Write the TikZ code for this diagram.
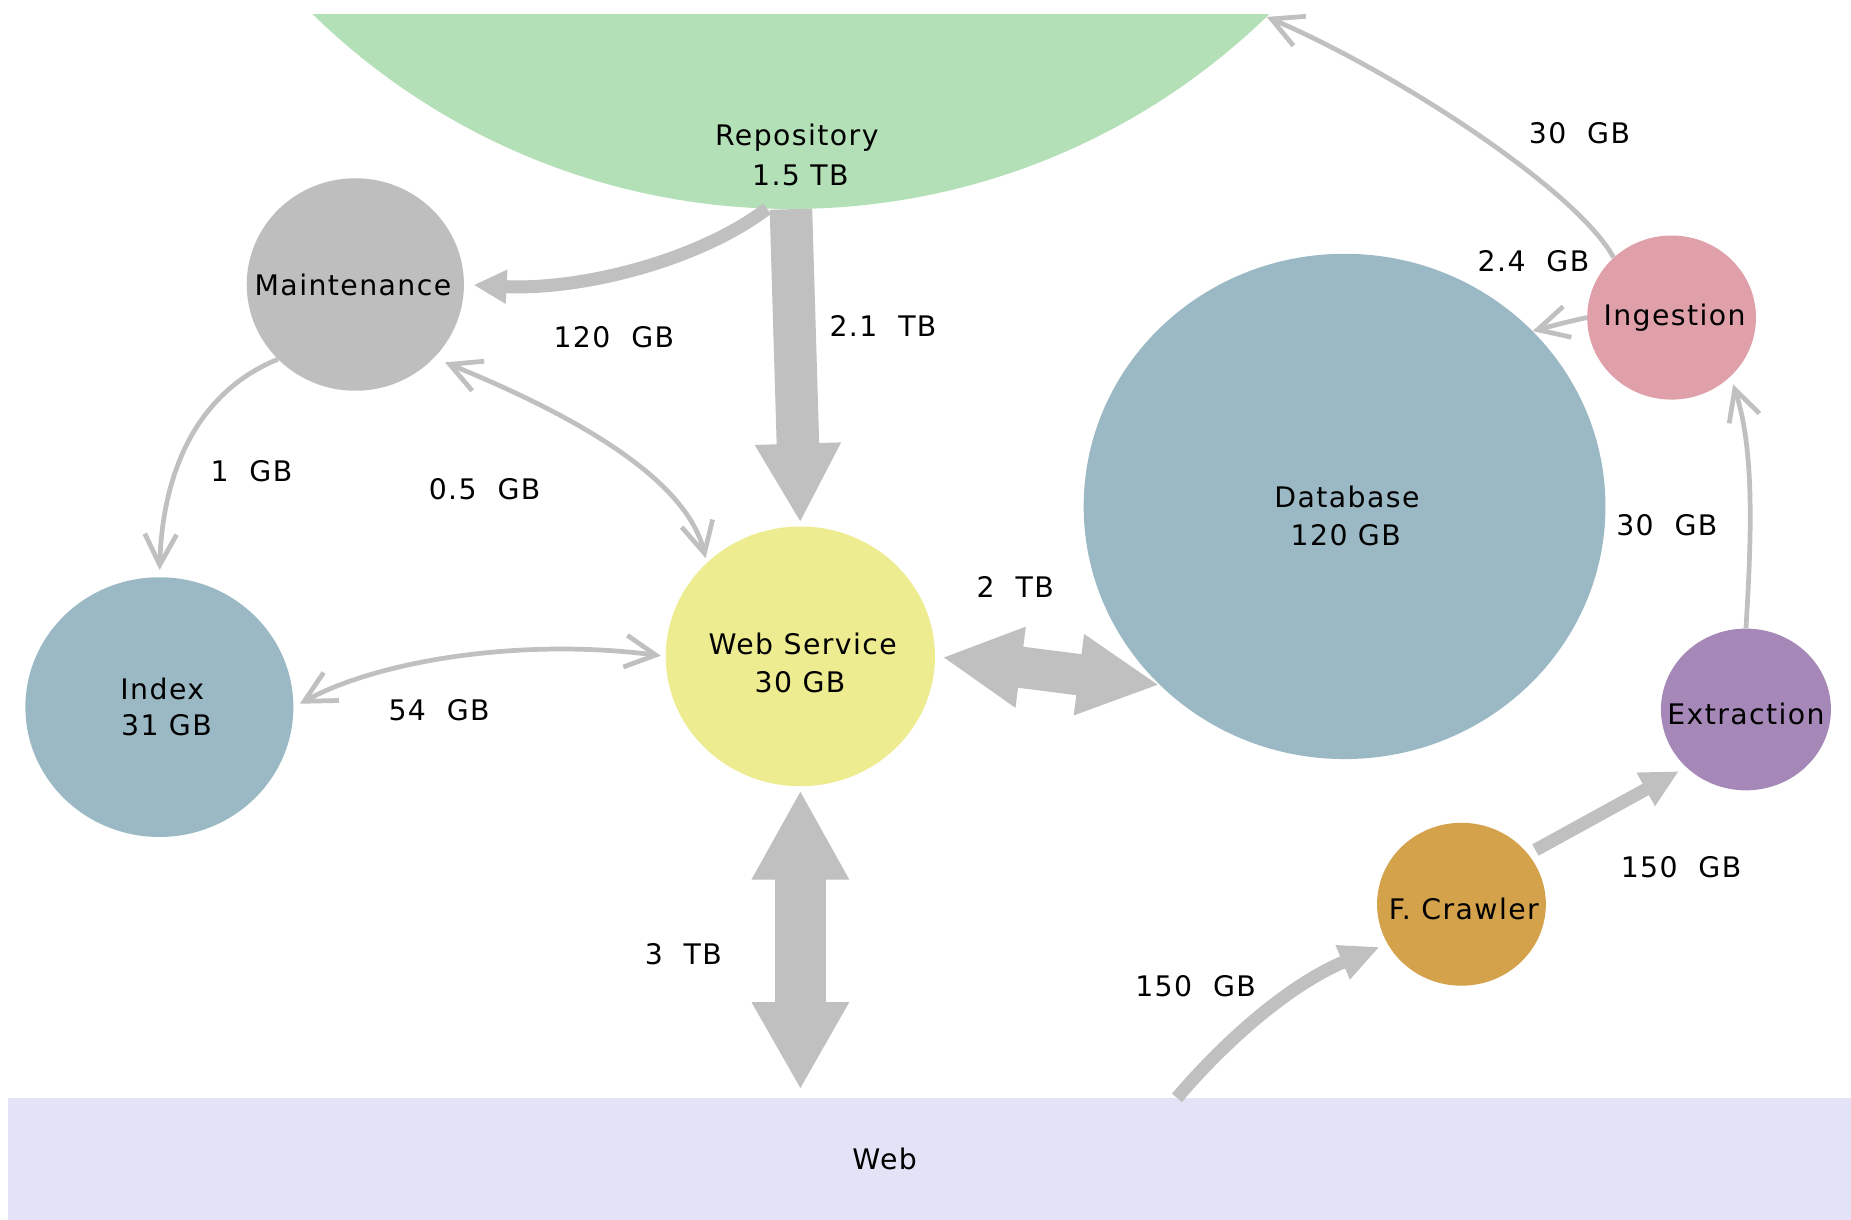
\documentclass[tikz,border=0pt]{standalone}
\usepackage{fontspec}
\newfontfamily\lblfont{DejaVu Sans}[LetterSpace=5]
\usetikzlibrary{shapes.geometric,arrows.meta}
\definecolor{repogreen}{HTML}{B4E0B8}
\definecolor{maintgray}{HTML}{BEBEBE}
\definecolor{dbblue}{HTML}{9BB9C4}
\definecolor{wsyellow}{HTML}{EEEC90}
\definecolor{ingpink}{HTML}{E0A0AA}
\definecolor{extpurple}{HTML}{A688B8}
\definecolor{fcgold}{HTML}{D4A24A}
\definecolor{webblue}{HTML}{E3E3F7}
\definecolor{flowgray}{HTML}{C0C0C0}
\begin{document}
\begin{tikzpicture}[x=1pt,y=-1pt,
  blob/.style={ellipse, inner sep=0pt, draw=none},
  lbl/.style={font=\lblfont\fontsize{24}{28}\selectfont, inner sep=0pt, anchor=base},
  flow/.style={draw=flowgray, line cap=butt},
  fthin/.style={flow, line width=4pt},
  fmed/.style={flow, line width=11pt},
  vhd/.tip={Straight Barb[length=26pt,width=27pt]},
  mhd/.tip={Triangle[length=32pt,width=30pt]}]
\useasboundingbox (0,0) rectangle (1568,1033);
\fill[white] (0,0) rectangle (1568,1033);
% repository (clipped)
\begin{scope}
  \clip (0,12) rectangle (1568,1033);
  \node[blob, fill=repogreen, minimum width=1160pt, minimum height=1160pt] (repo) at (670,-403) {};
\end{scope}
% web band
\node[rectangle, fill=webblue, inner sep=0pt, minimum width=1561pt, minimum height=103pt, anchor=north west] (web) at (7,930) {};
% circles
\node[blob, fill=maintgray, minimum width=184pt, minimum height=180pt] (maint) at (301,241) {};
\node[blob, fill=dbblue, minimum width=227pt, minimum height=220pt] (index) at (135,599) {};
\node[blob, fill=wsyellow, minimum width=228pt, minimum height=220pt] (ws) at (678,556) {};
\node[blob, fill=dbblue, minimum width=442pt, minimum height=428pt] (db) at (1139,429) {};
\node[blob, fill=ingpink, minimum width=143pt, minimum height=139pt] (ing) at (1416,269) {};
\node[blob, fill=extpurple, minimum width=144pt, minimum height=137pt] (ext) at (1479,601) {};
\node[blob, fill=fcgold, minimum width=143pt, minimum height=138pt] (fc) at (1238,766) {};
% connectors
\draw[fmed, -{Triangle[width=27pt,length=28pt]}, shorten >=8pt] (repo.-92) .. controls (590,222) and (490,246) .. (maint.east);
\draw[flow, line width=36pt, -{Triangle[width=68pt,length=67pt]}, shorten >=3pt] (repo.south) -- (ws.north);
\draw[fthin, -{vhd}, shorten >=6pt] (maint.-136) .. controls (172,330) and (138,392) .. (index.north);
\draw[fthin, {vhd}-{vhd}, shorten <=10pt, shorten >=4pt] (maint.-43) .. controls (470,345) and (580,400) .. (ws.135);
\draw[fthin, {vhd}-{vhd}, shorten <=6pt, shorten >=4pt] (index.east) .. controls (320,560) and (440,540) .. (ws.west);
\draw[flow, line width=43pt, {Triangle[width=77pt,length=76pt]}-{Triangle[width=77pt,length=74pt]}, shorten <=3pt, shorten >=7pt] (ws.south) -- (ws.south |- web.north);
\draw[flow, line width=35pt, {Triangle[width=64pt,length=67pt]}-{Triangle[width=64pt,length=69pt]}, shorten <=6pt] (ws.east) -- (db.-136);
\draw[fmed, -{mhd}, shorten <=7pt, shorten >=7pt] (fc.37) -- (ext.-136);
\draw[fmed, -{Triangle[width=29pt,length=34pt]}, shorten >=7pt] ([xshift=990pt]web.north west) .. controls (1035,885) and (1090,835) .. (fc.-152);
\draw[fthin, -{vhd}] (ing.134) .. controls (1335,160) and (1180,60) .. (repo.-46);
\draw[fthin, -{vhd}] (ing.west) .. controls (1330,272) and (1315,276) .. (db.43);
\draw[fthin, -{vhd}, shorten >=7pt] (ext.north) .. controls (1484,450) and (1486,380) .. (ing.-45);
% labels
\node[lbl] (tRepo) at (675,123) {Repository};
\node[lbl] (tRepoS) at (678,157) {1.5 TB};
\node[lbl] (tMaint) at (299,250) {Maintenance};
\node[lbl] (t120) at (520,294) {120~~GB};
\node[lbl] (t21) at (748,285) {2.1~~TB};
\node[lbl] (t1) at (213,408) {1~~GB};
\node[lbl] (t05) at (410.5,423) {0.5~~GB};
\node[lbl] (tIdx) at (137.5,592.6) {Index};
\node[lbl] (tIdxS) at (141,623.4) {31 GB};
\node[lbl] (t54) at (372,610.5) {54~~GB};
\node[lbl] (tWs) at (680,554.6) {Web Service};
\node[lbl] (tWsS) at (677.7,587) {30 GB};
\node[lbl] (t3) at (578.8,817) {3~~TB};
\node[lbl] (tWeb) at (749.4,991) {Web};
\node[lbl] (t2) at (860,506.5) {2~~TB};
\node[lbl] (tDb) at (1141,429.5) {Database};
\node[lbl] (tDbS) at (1140,462) {120 GB};
\node[lbl] (t30a) at (1338,121.5) {30~~GB};
\node[lbl] (t24) at (1299,230) {2.4~~GB};
\node[lbl] (tIng) at (1418.6,275.6) {Ingestion};
\node[lbl] (t30b) at (1412,454) {30~~GB};
\node[lbl] (tExt) at (1479,614) {Extraction};
\node[lbl] (t150a) at (1424,743) {150~~GB};
\node[lbl] (tFc) at (1240,779) {F. Crawler};
\node[lbl] (t150b) at (1012.8,844) {150~~GB};
\end{tikzpicture}
\end{document}
